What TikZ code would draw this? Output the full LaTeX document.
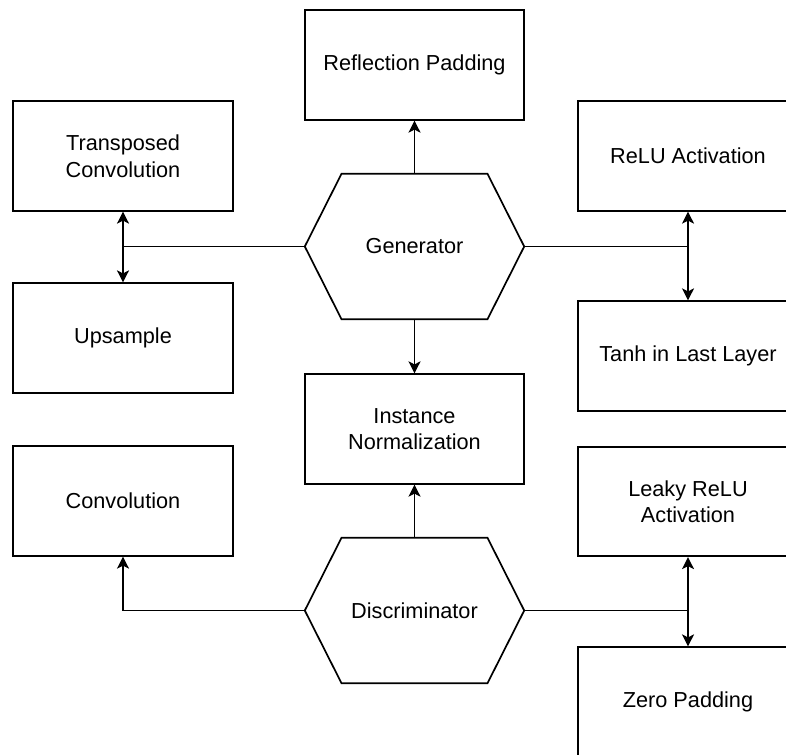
\documentclass[tikz,border=0pt]{standalone}
\usepackage{fontspec}
\setmainfont{Liberation Sans}
\usetikzlibrary{arrows.meta,calc}
\begin{document}
\begin{tikzpicture}[x=1pt,y=-1pt,
  labelfont/.style={font=\fontsize{21.7}{26.5}\selectfont},
  box/.style={draw, line width=1.7pt, minimum width=219.5pt, minimum height=109.5pt,
    inner sep=0pt, align=center, labelfont},
  hexcore/.style={minimum width=219pt, minimum height=145pt, inner sep=0pt,
    align=center, labelfont},
  hexline/.style={line width=1.7pt, line join=miter},
  wire/.style={line width=1.7pt},
  link/.style={line width=1.7pt, -{Stealth[length=12pt,width=12pt,inset=3pt]}}
]
\clip (0,0) rectangle (786,754);

% blocks of the generator
\node[box] (refl)  at (414.5,65)  {Reflection Padding};
\node[box] (tconv) at (123,156)   {Transposed\\Convolution};
\node[box] (relu)  at (688,156)   {ReLU Activation};
\node[box] (ups)   at (123,338)   {Upsample};
\node[box] (tanh)  at (688,356)   {Tanh in Last Layer};
\node[box] (inorm) at (414.5,429) {Instance\\Normalization};

% blocks of the discriminator
\node[box] (conv)  at (123,501)   {Convolution};
\node[box] (leaky) at (688,501.5) {Leaky ReLU\\Activation};
\node[box] (zero)  at (688,702)   {Zero Padding};

% the two hexagons
\node[hexcore] (gen)  at (414.5,246.5) {Generator};
\node[hexcore] (disc) at (414.5,610.5) {Discriminator};
\foreach \h in {gen,disc}{
  \draw[hexline] (\h.west) -- ($(\h.north west)+(36.7,0)$) -- ($(\h.north east)+(-36.7,0)$)
    -- (\h.east) -- ($(\h.south east)+(-36.7,0)$) -- ($(\h.south west)+(36.7,0)$) -- cycle;
}

% generator connections
\draw[link] (gen.north) -- (refl.south);
\draw[link] (gen.south) -- (inorm.north);
\coordinate (gleft)  at (tconv.south |- gen.west);
\coordinate (gright) at (relu.south |- gen.east);
\draw[wire] (gen.west) -- (gleft);
\draw[link] (gleft) -- (tconv.south);
\draw[link] (gleft) -- (ups.north);
\draw[wire] (gen.east) -- (gright);
\draw[link] (gright) -- (relu.south);
\draw[link] (gright) -- (tanh.north);

% discriminator connections
\draw[link] (disc.north) -- (inorm.south);
\draw[link] (disc.west) -| (conv.south);
\coordinate (dright) at (leaky.south |- disc.east);
\draw[wire] (disc.east) -- (dright);
\draw[link] (dright) -- (leaky.south);
\draw[link] (dright) -- (zero.north);
\end{tikzpicture}
\end{document}
